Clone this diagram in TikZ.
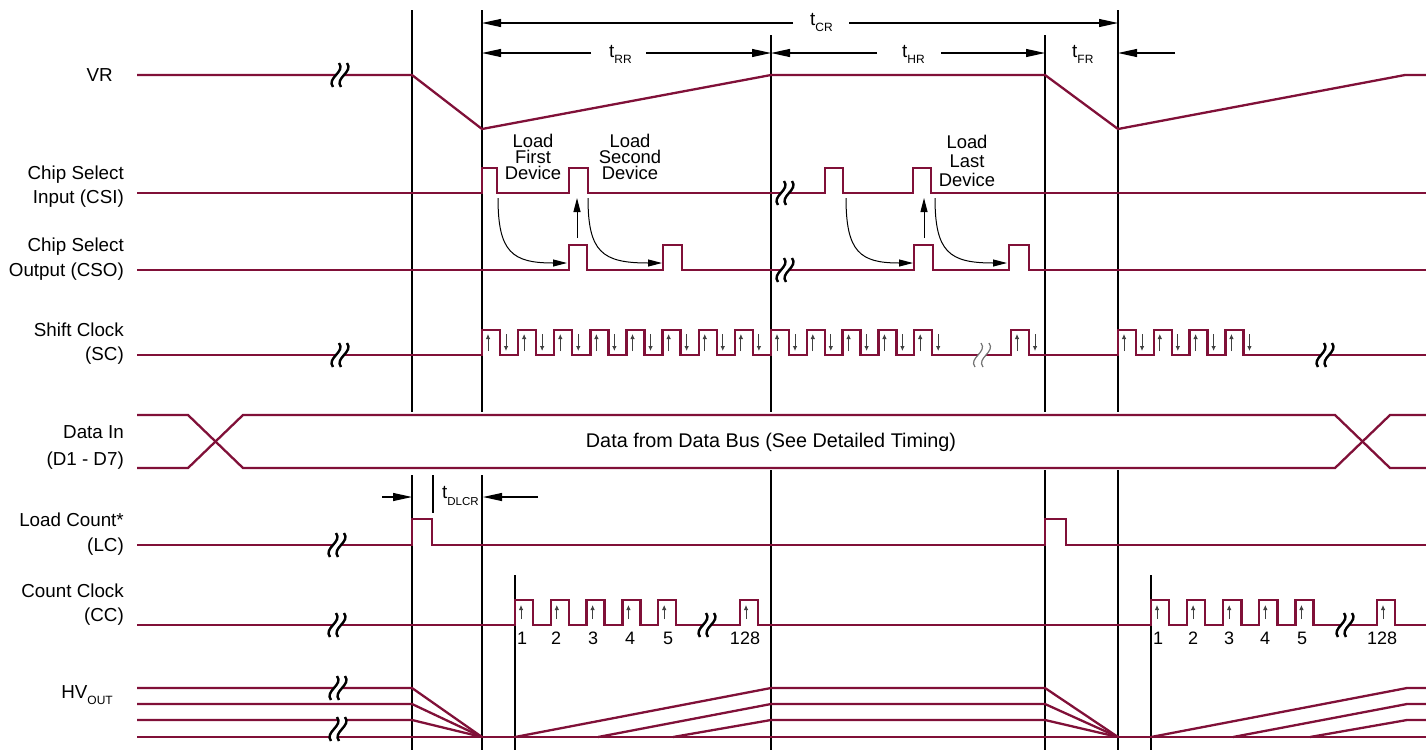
\documentclass[tikz,border=0pt]{standalone}
\usepackage{fontspec}
\setmainfont{Liberation Sans}
\usetikzlibrary{arrows.meta}
\definecolor{sig}{RGB}{128,16,56}
\tikzset{
  sigline/.style={draw=sig, line width=2.3pt, line join=miter},
  vline/.style={draw=black, line width=1.1pt},
  dimarrow/.style={draw=black, line width=1.1pt, -{Triangle[length=19pt,width=8pt]}},
  curvearrow/.style={draw=black, line width=1pt, -{Triangle[length=14pt,width=7pt]}},
  tinyarrow/.style={draw=black!75, line width=0.8pt, -{Latex[length=5pt,width=4.5pt]}},
  brkline/.style={draw=black, line width=2.4pt},
  brklight/.style={draw=black!55, line width=1.2pt},
  lbl/.style={inner sep=0pt, font=\fontsize{18.8}{20}\selectfont},
  ldlbl/.style={inner sep=0pt, font=\fontsize{18.4}{20}\selectfont, anchor=base},
  numlbl/.style={inner sep=0pt, font=\fontsize{18}{19}\selectfont, anchor=base},
}
\newcommand{\subtxt}[2][6pt]{\raisebox{-#1}{\fontsize{12}{12}\selectfont #2}}
\newcommand{\sigbreak}[3][brkline]{%
  \fill[white] (#2-7,#3+12) .. controls (#2-14,#3+3) and (#2+6,#3-3) .. (#2-1,#3-12)
     -- (#2+7,#3-12) .. controls (#2+14,#3-3) and (#2-6,#3+3) .. (#2+1,#3+12) -- cycle;
  \draw[#1] (#2-7,#3+12) .. controls (#2-14,#3+3) and (#2+6,#3-3) .. (#2-1,#3-12);
  \draw[#1] (#2+1,#3+12) .. controls (#2-6,#3+3) and (#2+14,#3-3) .. (#2+7,#3-12);
}
\begin{document}
\begin{tikzpicture}[x=1pt,y=-1pt]
\useasboundingbox (0,0) rectangle (1426,750);

% ---------- vertical reference lines ----------
\draw[vline] (412,10) -- (412,412) (412,475) -- (412,750);
\draw[vline] (482,10) -- (482,412) (482,475) -- (482,750);
\draw[vline] (771,35) -- (771,412) (771,470) -- (771,750);
\draw[vline] (1045,35) -- (1045,412) (1045,470) -- (1045,750);
\draw[vline] (1118,10) -- (1118,412) (1118,470) -- (1118,750);
\draw[vline] (433,475) -- (433,513);
\draw[vline] (515,575) -- (515,750);
\draw[vline] (1151,575) -- (1151,750);

% ---------- timing dimension arrows ----------
\node[lbl, anchor=base west] (tcr) at (810,25) {t\subtxt{CR}};
\node[lbl, anchor=base west] (trr) at (609,57) {t\subtxt{RR}};
\node[lbl, anchor=base west] (thr) at (902,57) {t\subtxt{HR}};
\node[lbl, anchor=base west] (tfr) at (1072,57) {t\subtxt{FR}};
\node[lbl, anchor=base west] (tdl) at (442,498) {t\raisebox{-7pt}{\fontsize{11.5}{12}\selectfont DLCR}};
\draw[dimarrow] (793,23) -- (482,23);
\draw[dimarrow] (849,23) -- (1118,23);
\draw[dimarrow] (591,53) -- (482,53);
\draw[dimarrow] (646,53) -- (771,53);
\draw[dimarrow] (877,53) -- (771,53);
\draw[dimarrow] (941,53) -- (1045,53);
\draw[dimarrow] (1175,53) -- (1118,53);
\draw[dimarrow] (382,497) -- (412,497);
\draw[dimarrow] (538,497) -- (483,497);

% ---------- left labels ----------
\node[lbl, anchor=base east] (lvr) at (113,81) {VR};
\node[lbl, anchor=base east] (lcsi1) at (124,179) {Chip Select};
\node[lbl, anchor=base east] (lcsi2) at (124,203) {Input (CSI)};
\node[lbl, anchor=base east] (lcso1) at (124,251) {Chip Select};
\node[lbl, anchor=base east] (lcso2) at (124,276) {Output (CSO)};
\node[lbl, anchor=base east] (lsc1) at (124,336) {Shift Clock};
\node[lbl, anchor=base east] (lsc2) at (124,360) {(SC)};
\node[lbl, anchor=base east] (ldi1) at (124,438) {Data In};
\node[lbl, anchor=base east] (ldi2) at (124,465) {(D1 - D7)};
\node[lbl, anchor=base east] (llc1) at (124,526) {Load Count*};
\node[lbl, anchor=base east] (llc2) at (124,551) {(LC)};
\node[lbl, anchor=base east] (lcc1) at (124,597) {Count Clock};
\node[lbl, anchor=base east] (lcc2) at (124,621) {(CC)};
\node[lbl, anchor=base east] (lhv) at (113,698) {HV\subtxt[6pt]{OUT}};

% ---------- load annotations ----------
\node[ldlbl] (lf1) at (533,147) {Load};
\node[ldlbl] (lf2) at (533,163) {First};
\node[ldlbl] (lf3) at (533,179) {Device};
\node[ldlbl] (ls1) at (630,147) {Load};
\node[ldlbl] (ls2) at (630,163) {Second};
\node[ldlbl] (ls3) at (630,179) {Device};
\node[ldlbl] (ll1) at (967,148) {Load};
\node[ldlbl] (ll2) at (967,167) {Last};
\node[ldlbl] (ll3) at (967,186) {Device};

% ---------- VR ----------
\draw[sigline] (137,75) -- (412,75) -- (482,129) -- (771,75) -- (1045,75) -- (1118,129) -- (1405,75) -- (1426,75);
\sigbreak{340}{75}

% ---------- CSI ----------
\draw[sigline] (137,193) -- (482,193) -- (482,168) -- (497,168) -- (497,193)
  -- (569,193) -- (569,168) -- (588,168) -- (588,193)
  -- (825,193) -- (825,168) -- (843,168) -- (843,193)
  -- (913,193) -- (913,168) -- (931,168) -- (931,193) -- (1426,193);
\sigbreak{785}{193}

% ---------- CSO ----------
\draw[sigline] (137,270) -- (569,270) -- (569,245) -- (587,245) -- (587,270)
  -- (663,270) -- (663,245) -- (682,245) -- (682,270)
  -- (914,270) -- (914,245) -- (933,245) -- (933,270)
  -- (1009,270) -- (1009,245) -- (1029,245) -- (1029,270) -- (1426,270);
\sigbreak{785}{270}

% ---------- CSI -> CSO arrows ----------
\draw[curvearrow] (498,198) .. controls (498,252) and (512,263) .. (567,263);
\draw[curvearrow] (588,198) .. controls (588,252) and (602,263) .. (662,263);
\draw[curvearrow] (846,198) .. controls (846,252) and (860,263) .. (913,263);
\draw[curvearrow] (935,198) .. controls (935,252) and (949,263) .. (1007,263);
\draw[curvearrow] (577,238) -- (577,198);
\draw[curvearrow] (924,238) -- (924,198);

% ---------- Shift clock ----------
\draw[sigline] (137,355) -- (482,355)
  \foreach \k in {1,...,8}{ -- ++(0,-25) -- ++(18,0) -- ++(0,25) -- ++(18.125,0)}
  \foreach \k in {1,...,5}{ -- ++(0,-25) -- ++(18,0) -- ++(0,25) -- ++(17.8,0)}
  -- (1011,355) -- ++(0,-25) -- ++(18,0) -- ++(0,25) -- (1118,355)
  \foreach \k in {1,...,4}{ -- ++(0,-25) -- ++(18,0) -- ++(0,25) -- ++(17.8,0)}
  -- (1426,355);
\foreach \k in {0,...,7}{
  \draw[tinyarrow] (488+\k*36.125,351) -- (488+\k*36.125,334);
  \draw[tinyarrow] (506+\k*36.125,334) -- (506+\k*36.125,351);
}
\foreach \k in {0,...,4}{
  \draw[tinyarrow] (777+\k*35.8,351) -- (777+\k*35.8,334);
  \draw[tinyarrow] (795+\k*35.8,334) -- (795+\k*35.8,351);
}
\draw[tinyarrow] (1017,351) -- (1017,334);
\draw[tinyarrow] (1035,334) -- (1035,351);
\foreach \k in {0,...,3}{
  \draw[tinyarrow] (1124+\k*35.8,351) -- (1124+\k*35.8,334);
  \draw[tinyarrow] (1142+\k*35.8,334) -- (1142+\k*35.8,351);
}
\sigbreak{340}{355}
\sigbreak[brklight]{982}{355}
\sigbreak{1325}{355}

% ---------- Data In ----------
\draw[sigline] (137,415) -- (188,415) -- (243,468) -- (1335,468) -- (1390,415) -- (1426,415);
\draw[sigline] (137,468) -- (188,468) -- (243,415) -- (1335,415) -- (1390,468) -- (1426,468);
\node[inner sep=0pt, font=\fontsize{19.8}{21}\selectfont] (dtxt) at (771,442) {Data from Data Bus (See Detailed Timing)};

% ---------- Load count ----------
\draw[sigline] (137,545) -- (412,545) -- (412,519) -- (432,519) -- (432,545)
  -- (1045,545) -- (1045,519) -- (1066,519) -- (1066,545) -- (1426,545);
\sigbreak{337}{545}

% ---------- Count clock ----------
\draw[sigline] (137,625) -- (515,625)
  \foreach \k in {1,...,5}{ -- ++(0,-25) -- ++(18,0) -- ++(0,25) -- ++(17.8,0)}
  -- (740,625) -- ++(0,-25) -- ++(18,0) -- ++(0,25) -- (1151,625)
  \foreach \k in {1,...,5}{ -- ++(0,-25) -- ++(18.2,0) -- ++(0,25) -- ++(17.9,0)}
  -- (1377,625) -- ++(0,-25) -- ++(18,0) -- ++(0,25) -- (1426,625);
\foreach \k in {0,...,4}{
  \draw[tinyarrow] (521+\k*35.8,619) -- (521+\k*35.8,605);
  \draw[tinyarrow] (1157+\k*36.1,619) -- (1157+\k*36.1,605);
}
\draw[tinyarrow] (746,619) -- (746,605);
\draw[tinyarrow] (1383,619) -- (1383,605);
\node[numlbl] (n1) at (522,644) {1};
\node[numlbl] (n2) at (556,644) {2};
\node[numlbl] (n3) at (593,644) {3};
\node[numlbl] (n4) at (630,644) {4};
\node[numlbl] (n5) at (668,644) {5};
\node[numlbl] (n128) at (745,644) {128};
\node[numlbl] (m1) at (1158,644) {1};
\node[numlbl] (m2) at (1193,644) {2};
\node[numlbl] (m3) at (1229,644) {3};
\node[numlbl] (m4) at (1265,644) {4};
\node[numlbl] (m5) at (1302,644) {5};
\node[numlbl] (m128) at (1382,644) {128};
\sigbreak{337}{625}
\sigbreak{707}{625}
\sigbreak{1345}{625}

% ---------- HV out ----------
\draw[sigline] (137,688) -- (412,688) -- (482,737);
\draw[sigline] (137,704) -- (412,704) -- (482,737);
\draw[sigline] (137,720) -- (412,720) -- (482,737);
\draw[sigline] (137,737) -- (1426,737);
\draw[sigline] (515,737) -- (771,688) -- (1045,688) -- (1118,737);
\draw[sigline] (598,737) -- (771,704) -- (1045,704) -- (1118,737);
\draw[sigline] (673,737) -- (771,720) -- (1045,720) -- (1118,737);
\draw[sigline] (1151,737) -- (1407,688) -- (1426,688);
\draw[sigline] (1233,737) -- (1407,704) -- (1426,704);
\draw[sigline] (1310,737) -- (1407,720) -- (1426,720);
\sigbreak{338}{688}
\sigbreak{338}{729}
\end{tikzpicture}
\end{document}
